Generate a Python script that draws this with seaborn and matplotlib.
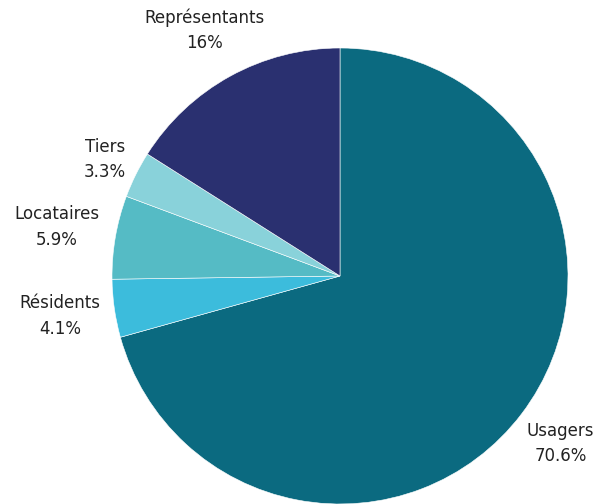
import numpy as np
import matplotlib
matplotlib.use("Agg")
import matplotlib.pyplot as plt
import seaborn as sns

categories = ["Usagers", "Résidents", "Locataires", "Tiers", "Représentants"]
values = [70.6, 4.1, 5.9, 3.3, 16]
value_labels = ["70.6%", "4.1%", "5.9%", "3.3%", "16%"]
colors = ["#0b6a80", "#3cbcdc", "#55bbc5", "#89d2da", "#2a3070"]
label_dist = [1.215, 1.24, 1.26, 1.15, 1.23]

sns.set_theme(style="white")
plt.rcParams["font.family"] = ["DejaVu Sans"]

fig = plt.figure(figsize=(5.98, 5.04), dpi=100)
ax = fig.add_axes([0, 0, 1, 1])

cx, cy, r = 340, 228, 228
wedges, _ = ax.pie(values, colors=colors, startangle=90, counterclock=False,
                   center=(cx, cy), radius=r,
                   wedgeprops=dict(edgecolor="white", linewidth=0.4))
for w, cat, vl, d in zip(wedges, categories, value_labels, label_dist):
    ang = np.deg2rad((w.theta1 + w.theta2) / 2)
    x = cx + d * r * np.cos(ang)
    y = cy + d * r * np.sin(ang)
    ax.text(x, y, f"{cat}\n{vl}", ha="center", va="center", fontsize=12,
            color="#222222", linespacing=1.55)

ax.set_xlim(0, 598)
ax.set_ylim(0, 504)
ax.set_aspect("auto")
ax.axis("off")
fig.savefig("out.png", dpi=100)
